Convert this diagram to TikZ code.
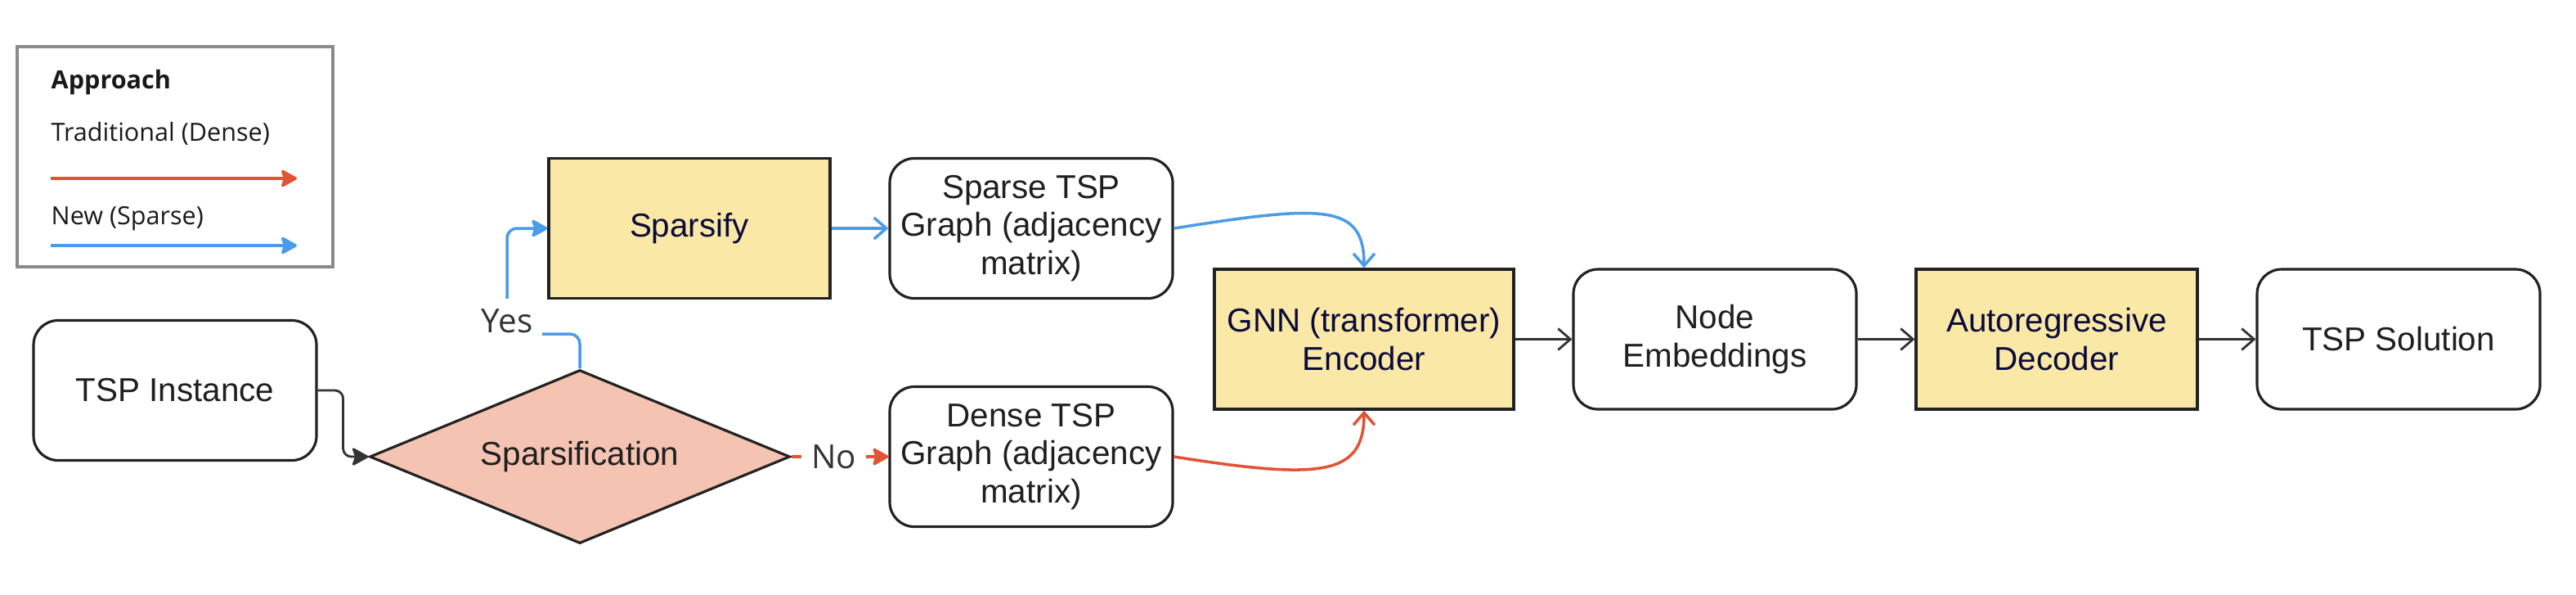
\documentclass[tikz,border=0pt]{standalone}
\usepackage{fontspec}
\setmainfont{Liberation Sans}
\newfontfamily\legendfont{Open Sans}
\usepackage{xcolor}
\usetikzlibrary{shapes.geometric, arrows.meta, positioning, calc}

\definecolor{procfill}{HTML}{FAE8A6}
\definecolor{decfill}{HTML}{F5C3B2}
\definecolor{densered}{HTML}{E05334}
\definecolor{sparseblue}{HTML}{4A9BE8}
\definecolor{linegray}{HTML}{333333}
\definecolor{navytext}{HTML}{0B0B3B}
\definecolor{boxline}{HTML}{222222}
\definecolor{legendline}{HTML}{8A8A8A}

\begin{document}
\begin{tikzpicture}[
    term/.style={rectangle, rounded corners=0.3cm, draw=boxline, line width=0.9pt, fill=white, minimum width=3.46cm, minimum height=1.71cm, align=center, text=black!88, font=\fontsize{11.5}{13.2}\selectfont, inner sep=0pt},
    proc/.style={rectangle, draw=boxline, line width=0.9pt, fill=procfill, minimum width=3.44cm, minimum height=1.71cm, align=center, text=navytext, font=\fontsize{11.5}{13.2}\selectfont, inner sep=0pt},
    decision/.style={diamond, aspect=2.42, draw=boxline, line width=0.9pt, fill=decfill, minimum width=5.14cm, minimum height=2.12cm, inner sep=0pt, text=black!88, font=\fontsize{11.5}{13.2}\selectfont},
    flow/.style={-{Straight Barb[length=0.15cm, width=0.26cm]}, line width=0.8pt, draw=linegray},
    solid tip/.style={-{Stealth[length=0.22cm, width=0.24cm, inset=0.04cm, round]}},
    densearrow/.style={line width=1pt, draw=densered},
    sparsearrow/.style={line width=1pt, draw=sparseblue},
    lbl/.style={fill=white, text=linegray, inner xsep=0.12cm, inner ysep=0.12cm, font=\legendfont\fontsize{11.5}{13}\selectfont},
    legendtext/.style={anchor=base west, inner sep=0pt, text=black!90, font=\legendfont\fontsize{8.7}{10}\selectfont}
]
    \useasboundingbox (0,0) rectangle (31.5,-7.26);

    % legend
    \draw[draw=legendline, line width=1pt] (0.21,-0.57) rectangle (4.07,-3.26);
    \node[legendtext, font=\legendfont\bfseries\fontsize{8.7}{10}\selectfont] (legtitle) at (0.62,-1.08) {Approach};
    \node[legendtext] (legdense) at (0.62,-1.72) {Traditional (Dense)};
    \node[legendtext] (legsparse) at (0.62,-2.74) {New (Sparse)};
    \coordinate (denseA) at (0.62,-2.18);
    \coordinate (denseB) at (3.63,-2.18);
    \coordinate (sparseA) at (0.62,-3.00);
    \coordinate (sparseB) at (3.63,-3.00);
    \draw[densearrow, solid tip] (denseA) -- (denseB);
    \draw[sparsearrow, solid tip] (sparseA) -- (sparseB);

    % boxes
    \node[term] (inst) at (2.14,-4.77) {TSP Instance};
    \node[decision] (decide) at (7.09,-5.58) {Sparsification};
    \node[proc] (sparsify) at (8.43,-2.79) {Sparsify};
    \node[term] (sparse) at (12.61,-2.79) {Sparse TSP\\Graph (adjacency\\matrix)};
    \node[term] (dense) at (12.61,-5.58) {Dense TSP\\Graph (adjacency\\matrix)};
    \node[proc, minimum width=3.66cm] (gnn) at (16.68,-4.145) {GNN (transformer)\\Encoder};
    \node[term] (embed) at (20.97,-4.145) {Node\\Embeddings};
    \node[proc] (decoder) at (25.15,-4.145) {Autoregressive\\Decoder};
    \node[term] (solution) at (29.33,-4.145) {TSP Solution};

    % connectors
    \draw[line width=0.8pt, draw=linegray, solid tip, rounded corners=0.1cm] (inst.east) -- ++(0.31,0) |- (decide.west);

    \coordinate (yesbend) at (6.20,-4.08);
    \draw[sparsearrow, solid tip, rounded corners=0.12cm] (decide.north) |- (yesbend) |- (sparsify.west);
    \node[lbl] (yes) at (6.20,-3.92) {Yes};

    \draw[densearrow, solid tip] (decide.east) -- node[lbl, pos=0.44] (no) {No} (dense.west);

    \draw[flow, draw=sparseblue, line width=1pt] (sparsify) -- (sparse);
    \draw[flow, draw=sparseblue, line width=1pt] (sparse.east) .. controls +(1.83,0.29) and +(0,0.79) .. (gnn.north);
    \draw[flow, draw=densered, line width=1pt] (dense.east) .. controls +(1.83,-0.29) and +(0,-0.79) .. (gnn.south);

    \draw[flow] (gnn) -- (embed);
    \draw[flow] (embed) -- (decoder);
    \draw[flow] (decoder) -- (solution);
\end{tikzpicture}
\end{document}
